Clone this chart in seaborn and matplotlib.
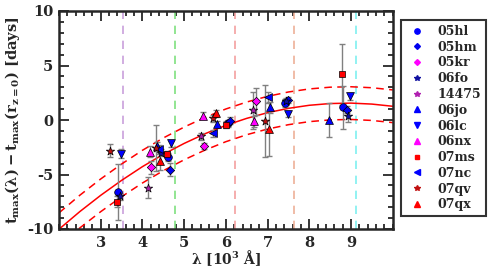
import numpy as np
import pandas as pd
import matplotlib
matplotlib.use("Agg")
import matplotlib.pyplot as plt
from matplotlib.lines import Line2D
import seaborn as sns

# ---------------- data ----------------
sn_names = ["05hl", "05hm", "05kr", "06fo", "14475", "06jo", "06lc", "06nx",
            "07ms", "07nc", "07qv", "07qx"]

wl_05hl = [3.41, 4.62, 6.05, 7.42, 8.82]
dt_05hl = [-6.6, -3.4, -0.3, 1.55, 1.15]
er_05hl = [2.6, 0.4, 0.3, 0.4, 2.0]

wl_05hm = [4.66, 6.10, 7.50, 8.90]
dt_05hm = [-4.55, -0.05, 1.85, 0.95]
er_05hm = [0.6, 0.3, 0.3, 0.3]

wl_05kr = [4.20, 5.48, 6.72]
dt_05kr = [-4.35, -2.4, 1.7]
er_05kr = [0.6, 0.3, 1.2]

wl_06fo = [3.46, 4.45, 7.45, 8.94]
dt_06fo = [-7.0, -3.0, 1.7, 0.4]
er_06fo = [0.3, 0.3, 0.3, 0.6]

wl_14475 = [4.14, 5.41, 6.66]
dt_14475 = [-6.2, -1.5, 0.9]
er_14475 = [1.0, 0.3, 1.7]

wl_06jo = [4.36, 5.78, 7.06, 8.47]
dt_06jo = [-2.4, -0.37, 1.16, 0.0]
er_06jo = [0.4, 0.3, 0.5, 1.6]

wl_06lc = [3.48, 4.69, 7.48, 8.98]
dt_06lc = [-3.1, -2.14, 0.55, 2.17]
er_06lc = [0.4, 0.3, 0.3, 0.3]

wl_06nx = [4.18, 5.46, 6.68]
dt_06nx = [-2.9, 0.4, -0.1]
er_06nx = [0.5, 0.3, 0.5]

wl_07ms = [3.38, 4.58, 6.00, 8.78]
dt_07ms = [-7.5, -3.1, -0.43, 4.2]
er_07ms = [0.5, 0.3, 0.3, 2.8]

wl_07nc = [4.40, 5.70, 7.00]
dt_07nc = [-2.7, -1.22, 2.08]
er_07nc = [0.4, 0.3, 0.5]

wl_07qv = [3.22, 4.33, 5.68, 6.94]
dt_07qv = [-2.8, -2.6, 0.15, -0.06]
er_07qv = [0.6, 2.1, 0.3, 3.3]

wl_07qx = [4.41, 5.76, 7.04]
dt_07qx = [-3.8, 0.6, -0.83]
er_07qx = [0.8, 0.3, 2.5]

fit_wl = [2.0, 2.5, 3.0, 3.5, 4.0, 4.5, 5.0, 5.5, 6.0, 6.5, 7.0, 7.5, 8.0,
          8.5, 9.0, 9.5, 10.0]
fit_dt = [-10.02, -8.40, -6.91, -5.54, -4.28, -3.15, -2.15, -1.26, -0.49,
          0.15, 0.67, 1.07, 1.35, 1.51, 1.55, 1.46, 1.26]
band_halfwidth = 1.5

# filter effective wavelengths (vertical dashed lines)
filter_wl = [3.54, 4.77, 6.23, 7.63, 9.13]
filter_colors = ["#c9a0dc", "#7fe07f", "#f4a0a0", "#eeb098", "#7ff0f0"]

# ---------------- styling ----------------
styles = {
    "05hl": dict(marker="o", color="#0000ff", s=30),
    "05hm": dict(marker="D", color="#0000ee", s=18),
    "05kr": dict(marker="D", color="#ff00ff", s=18),
    "06fo": dict(marker="*", color="#1010a0", s=40),
    "14475": dict(marker="*", color="#b020b0", s=40),
    "06jo": dict(marker="^", color="#0000ff", s=32),
    "06lc": dict(marker="v", color="#0000ff", s=32),
    "06nx": dict(marker="^", color="#ff00ff", s=32),
    "07ms": dict(marker="s", color="#ff0000", s=24),
    "07nc": dict(marker="<", color="#0000ff", s=32),
    "07qv": dict(marker="*", color="#c01010", s=40),
    "07qx": dict(marker="^", color="#ff0000", s=32),
}

data = {
    "05hl": (wl_05hl, dt_05hl, er_05hl), "05hm": (wl_05hm, dt_05hm, er_05hm),
    "05kr": (wl_05kr, dt_05kr, er_05kr), "06fo": (wl_06fo, dt_06fo, er_06fo),
    "14475": (wl_14475, dt_14475, er_14475), "06jo": (wl_06jo, dt_06jo, er_06jo),
    "06lc": (wl_06lc, dt_06lc, er_06lc), "06nx": (wl_06nx, dt_06nx, er_06nx),
    "07ms": (wl_07ms, dt_07ms, er_07ms), "07nc": (wl_07nc, dt_07nc, er_07nc),
    "07qv": (wl_07qv, dt_07qv, er_07qv), "07qx": (wl_07qx, dt_07qx, er_07qx),
}

rows = []
for name in sn_names:
    w, d, e = data[name]
    for a, b, c in zip(w, d, e):
        rows.append(dict(sn=name, wl=a, dt=b, err=c))
df = pd.DataFrame(rows)

fit_df = pd.DataFrame(dict(wl=fit_wl, dt=fit_dt))
fit_df["up"] = fit_df["dt"] + band_halfwidth
fit_df["lo"] = fit_df["dt"] - band_halfwidth

sns.set_style("ticks")
plt.rcParams["font.family"] = ["DejaVu Serif"]
plt.rcParams["font.weight"] = "bold"
plt.rcParams["mathtext.fontset"] = "dejavuserif"
plt.rcParams["mathtext.default"] = "bf"
plt.rcParams["axes.unicode_minus"] = False

fig = plt.figure(figsize=(4.91, 2.68), dpi=100)
ax = fig.add_axes([59 / 491, 1 - 229 / 268, (392.7 - 59) / 491, (229 - 11) / 268])

for w, c in zip(filter_wl, filter_colors):
    ax.axvline(w, color=c, ls=(0, (5, 4)), lw=1.2, zorder=1)

sns.lineplot(data=fit_df, x="wl", y="dt", ax=ax, color="red", lw=1.1,
             zorder=2, sort=False)
sns.lineplot(data=fit_df, x="wl", y="up", ax=ax, color="red", lw=1.1,
             ls=(0, (5, 3.5)), zorder=2, sort=False)
sns.lineplot(data=fit_df, x="wl", y="lo", ax=ax, color="red", lw=1.1,
             ls=(0, (5, 3.5)), zorder=2, sort=False)

ax.errorbar(df["wl"], df["dt"], yerr=df["err"], fmt="none", ecolor="#808080",
            elinewidth=1.0, capsize=2.5, capthick=1.0, zorder=3)

for name in sn_names:
    st = styles[name]
    sub = df[df["sn"] == name]
    sns.scatterplot(data=sub, x="wl", y="dt", ax=ax, marker=st["marker"],
                    color=st["color"], s=st["s"], edgecolor="black",
                    linewidth=0.5, zorder=4, legend=False)

ax.set_xlim(2, 10)
ax.set_ylim(-10, 10)
ax.set_xticks([3, 4, 5, 6, 7, 8, 9])
ax.set_yticks([-10, -5, 0, 5, 10])
ax.set_xticks(np.arange(2, 10.01, 0.2), minor=True)
ax.set_yticks(np.arange(-10, 10.01, 1), minor=True)
ax.tick_params(which="both", direction="in", top=True, right=True,
               width=1.3, labelsize=10.5)
ax.tick_params(axis="x", which="major", pad=5)
ax.tick_params(axis="y", which="major", pad=4)
ax.tick_params(which="major", length=7)
ax.tick_params(which="minor", length=3.5)
for lab in ax.get_xticklabels() + ax.get_yticklabels():
    lab.set_fontweight("bold")
for sp in ax.spines.values():
    sp.set_linewidth(1.8)

ax.set_xlabel(r"$\lambda$ [10$^{3}$ Å]", fontsize=10, fontweight="bold",
              labelpad=-1)
ax.set_ylabel(r"$t_{max}(\lambda)-t_{max}(r_{z=0})$ [days]", fontsize=10.5,
              fontweight="bold", labelpad=4)

handles = []
for name in sn_names:
    st = styles[name]
    ms = np.sqrt(st["s"]) * 0.7
    handles.append(Line2D([], [], ls="none", marker=st["marker"],
                          color=st["color"], markersize=ms,
                          markeredgecolor=st["color"], label=name))
leg = fig.legend(handles=handles, loc="upper left",
                 bbox_to_anchor=(401 / 491, 1 - 20 / 268),
                 borderaxespad=0.0,
                 frameon=True, fancybox=False, edgecolor="black",
                 handlelength=1.8, handletextpad=0.7, labelspacing=0.22,
                 borderpad=0.4, prop=dict(family="DejaVu Serif",
                                          weight="bold", size=9))
leg.get_frame().set_linewidth(1.5)

fig.savefig("out.png", dpi=100)
